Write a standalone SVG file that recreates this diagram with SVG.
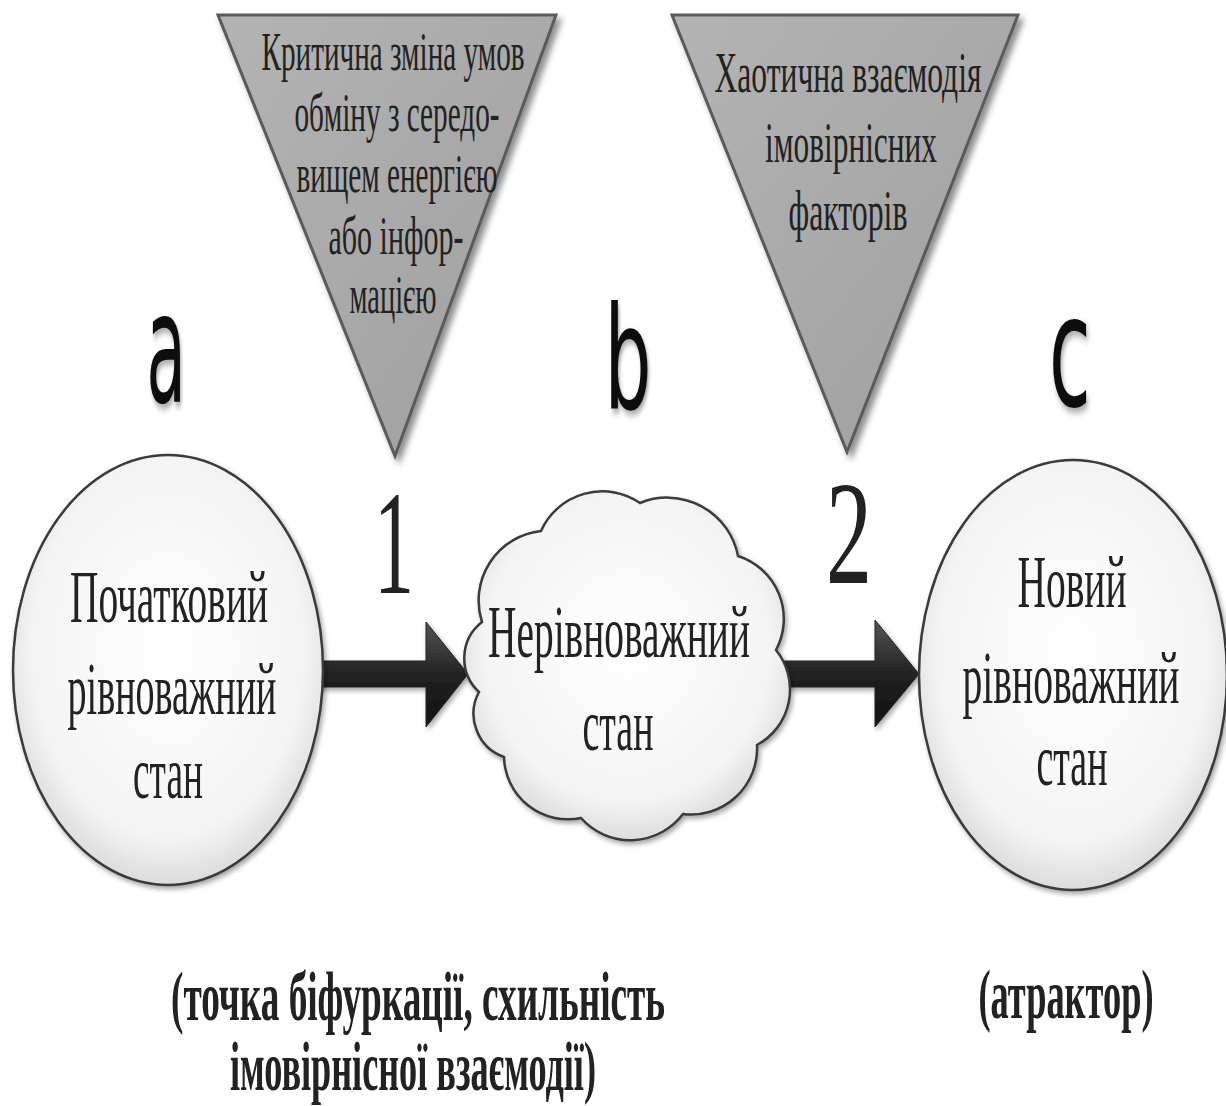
<svg xmlns="http://www.w3.org/2000/svg" width="1226" height="1106" viewBox="0 0 1226 1106">
<defs>
<filter id="shadow" x="-20%" y="-20%" width="140%" height="140%">
<feDropShadow dx="4" dy="5" stdDeviation="3" flood-color="#000" flood-opacity="0.45"/>
</filter>
<filter id="soft" x="-20%" y="-20%" width="140%" height="140%">
<feDropShadow dx="2" dy="3" stdDeviation="2.5" flood-color="#000" flood-opacity="0.35"/>
</filter>
<linearGradient id="triFill" x1="0" y1="0" x2="1" y2="1">
<stop offset="0" stop-color="#b4b4b4"/>
<stop offset="1" stop-color="#9e9e9e"/>
</linearGradient>
<radialGradient id="nodeFill" cx="0.5" cy="0.45" r="0.55">
<stop offset="0" stop-color="#ffffff"/>
<stop offset="0.8" stop-color="#f4f4f4"/>
<stop offset="1" stop-color="#dcdcdc"/>
</radialGradient>
<linearGradient id="arrowFill" x1="0" y1="0" x2="0" y2="1">
<stop offset="0" stop-color="#555"/>
<stop offset="0.5" stop-color="#222"/>
<stop offset="1" stop-color="#111"/>
</linearGradient>
<style>
.tri{fill:url(#triFill);stroke:#5a5a5a;stroke-width:3;filter:url(#shadow)}
.node{fill:url(#nodeFill);stroke:#3a3a3a;stroke-width:2.5;filter:url(#soft)}
.arrow{fill:url(#arrowFill);stroke:#222;stroke-width:1;filter:url(#soft)}
.serif{font-family:"Liberation Serif","Times New Roman",serif;fill:#222;text-anchor:middle}
.t1{font-size:54px}
.t2{font-size:58px}
.nt{font-size:74px}
.num{font-size:148px}
.cap{font-size:70px;font-weight:bold}
.let{font-family:"DejaVu Sans",sans-serif;font-size:100px;fill:#111;text-anchor:middle;filter:url(#soft)}
</style>
</defs>
<rect width="1226" height="1106" fill="#fff"/>

<g id="connectors">
<path class="arrow" d="M316,661 H426 V622 L468,674 L426,727 V687 H316 Z"/>
<path class="arrow" d="M770,661 H875 V620 L919,674 L875,727 V687 H770 Z"/>
</g>

<g id="trigger1">
<polygon class="tri" points="218,15 556,15 395,456"/>
<text class="serif t1" x="393" y="70" textLength="263" lengthAdjust="spacingAndGlyphs">Критична зміна умов</text>
<text class="serif t1" x="397" y="131" textLength="205" lengthAdjust="spacingAndGlyphs">обміну з середо-</text>
<text class="serif t1" x="397" y="192" textLength="201" lengthAdjust="spacingAndGlyphs">вищем енергією</text>
<text class="serif t1" x="396" y="254" textLength="135" lengthAdjust="spacingAndGlyphs">або інфор-</text>
<text class="serif t1" x="393" y="313" textLength="87" lengthAdjust="spacingAndGlyphs">мацією</text>
</g>

<g id="trigger2">
<polygon class="tri" points="672,15 1018,15 847,452"/>
<text class="serif t2" x="848" y="92" textLength="267" lengthAdjust="spacingAndGlyphs">Хаотична взаємодія</text>
<text class="serif t2" x="851" y="162" textLength="172" lengthAdjust="spacingAndGlyphs">імовірнісних</text>
<text class="serif t2" x="848" y="230" textLength="119" lengthAdjust="spacingAndGlyphs">факторів</text>
</g>

<g id="label-a"><text class="let" transform="translate(166,402) scale(0.64,1.54)">a</text></g>
<g id="label-b"><text class="let" transform="translate(628,409) scale(0.74,1.42)">b</text></g>
<g id="label-c"><text class="let" transform="translate(1070,406) scale(0.76,1.55)">c</text></g>

<g id="num-1"><text class="serif num" x="394" y="593" textLength="40" lengthAdjust="spacingAndGlyphs">1</text></g>
<g id="num-2"><text class="serif num" x="849" y="583" textLength="46" lengthAdjust="spacingAndGlyphs">2</text></g>

<g id="state-a">
<ellipse class="node" cx="168" cy="670" rx="155" ry="215"/>
<text class="serif nt" x="169" y="622" textLength="198" lengthAdjust="spacingAndGlyphs">Початковий</text>
<text class="serif nt" x="172" y="714" textLength="209" lengthAdjust="spacingAndGlyphs">рівноважний</text>
<text class="serif nt" x="168" y="798" textLength="70" lengthAdjust="spacingAndGlyphs">стан</text>
</g>

<g id="state-b">
<path class="node" d="M482,622 A70,70 0 0 1 541,531 A67,67 0 0 1 640,503 A72,72 0 0 1 738,556 A66,66 0 0 1 776,650 A63,63 0 0 1 757,745 A66,66 0 0 1 683,814 A66,66 0 0 1 581,818 A64,64 0 0 1 504,757 A46,46 0 0 1 479,692 A46,46 0 0 1 482,622 Z"/>
<text class="serif nt" x="619" y="657" textLength="262" lengthAdjust="spacingAndGlyphs">Нерівноважний</text>
<text class="serif nt" x="618" y="750" textLength="71" lengthAdjust="spacingAndGlyphs">стан</text>
</g>

<g id="state-c">
<ellipse class="node" cx="1073" cy="675" rx="154" ry="215"/>
<text class="serif nt" x="1072" y="607" textLength="109" lengthAdjust="spacingAndGlyphs">Новий</text>
<text class="serif nt" x="1071" y="703" textLength="217" lengthAdjust="spacingAndGlyphs">рівноважний</text>
<text class="serif nt" x="1072" y="785" textLength="71" lengthAdjust="spacingAndGlyphs">стан</text>
</g>

<g id="caption-b">
<text class="serif cap" x="418" y="1020" textLength="494" lengthAdjust="spacingAndGlyphs">(точка біфуркації, схильність</text>
<text class="serif cap" x="413" y="1090" textLength="366" lengthAdjust="spacingAndGlyphs">імовірнісної взаємодії)</text>
</g>

<g id="caption-c">
<text class="serif cap" x="1066" y="1018" textLength="175" lengthAdjust="spacingAndGlyphs">(атрактор)</text>
</g>
</svg>
